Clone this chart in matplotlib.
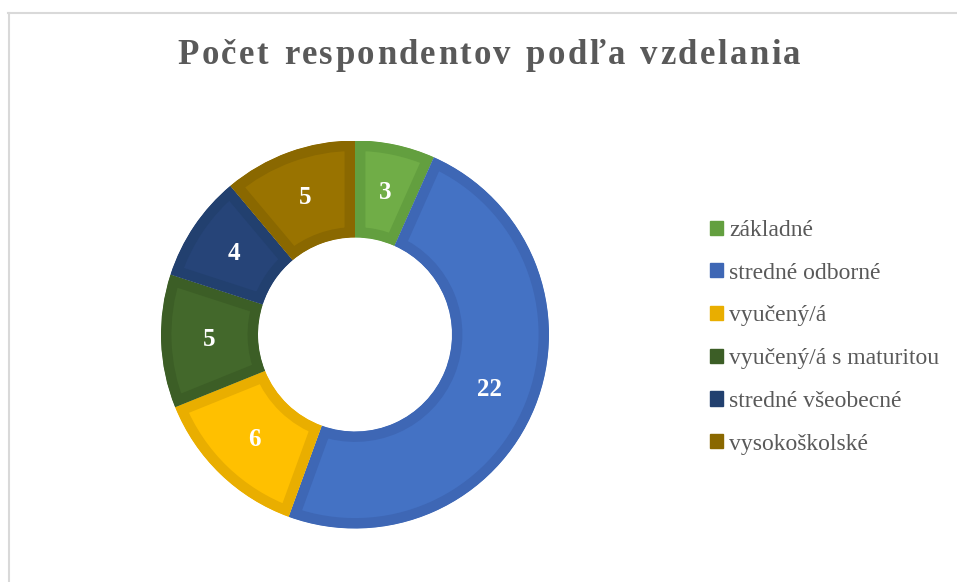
import matplotlib
matplotlib.use("Agg")
import matplotlib.pyplot as plt
from matplotlib.patches import Patch
from matplotlib.lines import Line2D

categories = ["základné", "stredné odborné", "vyučený/á", "vyučený/á s maturitou",
              "stredné všeobecné", "vysokoškolské"]
values = [3, 22, 6, 5, 4, 5]
fill_colors = ["#70AD47", "#4472C4", "#FFC000", "#43682B", "#264478", "#997300"]
edge_colors = ["#639F3F", "#3E67B5", "#E9AE00", "#3C5E26", "#22406F", "#8A6800"]
title = "Počet respondentov podľa vzdelania"

plt.rcParams['font.family'] = ['Liberation Serif', 'DejaVu Serif']

W, H = 957, 582
fig = plt.figure(figsize=(W / 100, H / 100), dpi=100)
fig.patch.set_facecolor("white")

# chart area border (top and left visible)
fig.add_artist(Line2D([8 / W, 1.0], [1 - 13 / H, 1 - 13 / H], transform=fig.transFigure,
                      color="#D9D9D9", lw=1.5))
fig.add_artist(Line2D([9 / W, 9 / W], [0.0, 1 - 13 / H], transform=fig.transFigure,
                      color="#D9D9D9", lw=1.5))

cx, cy, r = 355, 334.5, 194
ax = fig.add_axes([(cx - r) / W, (H - cy - r) / H, 2 * r / W, 2 * r / H])
total = sum(values)
wedges, texts, autotexts = ax.pie(
    values, colors=fill_colors, startangle=90, counterclock=False, radius=1.0,
    wedgeprops=dict(width=0.5, linewidth=15, antialiased=True),
    autopct=lambda p: f"{round(p * total / 100)}", pctdistance=0.75,
    textprops=dict(color="white", fontsize=18, fontweight="bold"))
ax.set_xlim(-1, 1)
ax.set_ylim(-1, 1)
ax.set_aspect("equal")
ax.axis("off")
for w, ec in zip(wedges, edge_colors):
    w.set_edgecolor(ec)
    w.set_clip_on(True)
    w.set_clip_path(w.get_path(), ax.transData)

# title with letter spacing, characters placed from measured widths
fig.canvas.draw()
renderer = fig.canvas.get_renderer()
tprops = dict(fontsize=25, fontweight="bold", color="#595959")
widths = []
for ch in title:
    t = fig.text(0, 0, ch if ch != " " else "n", **tprops)
    bb = t.get_window_extent(renderer)
    widths.append(bb.width * (0.55 if ch == " " else 1.0))
    t.remove()
spacing = 2.4
total_w = sum(widths) + spacing * (len(title) - 1)
x = 489 - total_w / 2
for ch, wdt in zip(title, widths):
    fig.text(x / W, 1 - 55 / H, ch, ha="left", va="center", **tprops)
    x += wdt + spacing

handles = [Patch(facecolor=c, edgecolor=c) for c in edge_colors]
leg = fig.legend(handles, categories, loc="upper left", bbox_to_anchor=(710 / W, 1 - 220 / H),
                 frameon=False, fontsize=17, handlelength=0.55, handleheight=0.55,
                 handletextpad=0.25, labelspacing=0.92, borderaxespad=0, borderpad=0)
for t in leg.get_texts():
    t.set_color("#595959")

fig.savefig("out.png", dpi=100, facecolor="white")
